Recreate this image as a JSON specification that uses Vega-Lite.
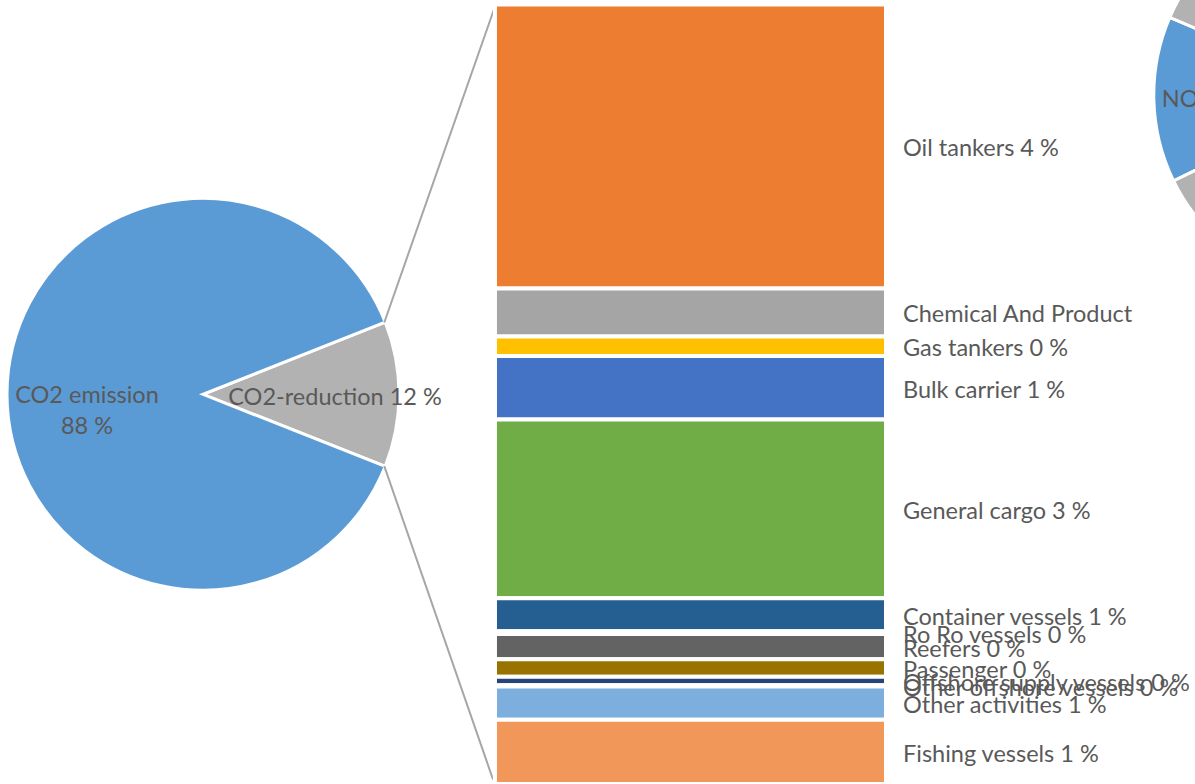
{
  "$schema": "https://vega.github.io/schema/vega-lite/v6.json",
  "width": 1195,
  "height": 784,
  "autosize": {"type": "none"},
  "padding": 0,
  "background": "white",
  "config": {
    "view": {"stroke": null},
    "text": {"font": "Lato", "fontSize": 23.5, "fill": "#595959"}
  },
  "datasets": {
    "co2": [
      {"part": "CO2-reduction", "rank": 1, "value": 12.0},
      {"part": "CO2 emission", "rank": 2, "value": 88.0}
    ],
    "nox": [
      {"part": "NOx emission", "rank": 1, "value": 13.7},
      {"part": "NOx-reduction", "rank": 2, "value": 86.3}
    ],
    "ships": [
      {"segment": "Oil tankers", "rank": 1, "share": 4.37},
      {"segment": "Chemical And Product tankers", "rank": 2, "share": 0.74},
      {"segment": "Gas tankers", "rank": 3, "share": 0.30},
      {"segment": "Bulk carrier", "rank": 4, "share": 0.98},
      {"segment": "General cargo", "rank": 5, "share": 2.75},
      {"segment": "Container vessels", "rank": 6, "share": 0.51},
      {"segment": "Ro Ro vessels", "rank": 7, "share": 0.04},
      {"segment": "Reefers", "rank": 8, "share": 0.39},
      {"segment": "Passenger", "rank": 9, "share": 0.27},
      {"segment": "Offshore supply vessels", "rank": 10, "share": 0.13},
      {"segment": "Other offshore vessels", "rank": 11, "share": 0.02},
      {"segment": "Other activities", "rank": 12, "share": 0.51},
      {"segment": "Fishing vessels", "rank": 13, "share": 0.99}
    ]
  },
  "resolve": {"scale": {"theta": "independent", "color": "independent"}},
  "layer": [
    {
      "data": {"name": "co2"},
      "encoding": {
        "x": {"datum": 3.125, "type": "quantitative", "scale": {"domain": [0, 18.397], "nice": false, "zero": false}, "axis": null},
        "y": {"datum": 6.0, "type": "quantitative", "scale": {"domain": [0, 12.07], "nice": false, "zero": false}, "axis": null},
        "theta": {"field": "value", "type": "quantitative", "stack": true, "scale": {"range": [1.1938, 7.4770]}},
        "order": {"field": "rank", "type": "quantitative"}
      },
      "layer": [
        {
          "mark": {"type": "arc", "radius": 196, "stroke": "white", "strokeWidth": 3},
          "encoding": {
            "color": {"field": "part", "type": "nominal", "scale": {"domain": ["CO2-reduction", "CO2 emission"], "range": ["#B2B2B2", "#5B9BD5"]}, "legend": null}
          }
        },
        {
          "mark": {
            "type": "text",
            "align": "center",
            "baseline": "middle",
            "lineHeight": 31,
            "radius": {"expr": "datum.rank == 2 ? 116 : 132"},
            "dy": {"expr": "datum.rank == 2 ? 2 : 4"},
            "text": {"expr": "datum.rank == 2 ? [datum.part, format(datum.value, '.0f') + ' %'] : datum.part + ' ' + format(datum.value, '.0f') + ' %'"}
          }
        }
      ]
    },
    {
      "data": {"name": "co2"},
      "transform": [{"filter": "datum.rank == 1"}],
      "mark": {"type": "rule", "color": "#A6A6A6", "strokeWidth": 2},
      "encoding": {
        "x": {"datum": 5.916, "type": "quantitative", "scale": {"domain": [0, 18.397], "nice": false, "zero": false}, "axis": null},
        "y": {"datum": 7.105, "type": "quantitative", "scale": {"domain": [0, 12.07], "nice": false, "zero": false}, "axis": null},
        "x2": {"datum": 7.62},
        "y2": {"datum": 11.97}
      }
    },
    {
      "data": {"name": "co2"},
      "transform": [{"filter": "datum.rank == 1"}],
      "mark": {"type": "rule", "color": "#A6A6A6", "strokeWidth": 2},
      "encoding": {
        "x": {"datum": 5.916, "type": "quantitative", "scale": {"domain": [0, 18.397], "nice": false, "zero": false}, "axis": null},
        "y": {"datum": 4.895, "type": "quantitative", "scale": {"domain": [0, 12.07], "nice": false, "zero": false}, "axis": null},
        "x2": {"datum": 7.59},
        "y2": {"datum": 0.07}
      }
    },
    {
      "data": {"name": "ships"},
      "transform": [
        {"stack": "share", "groupby": [], "sort": [{"field": "rank", "order": "descending"}], "as": ["lo", "hi"]}
      ],
      "layer": [
        {
          "mark": {"type": "bar", "stroke": "white", "strokeWidth": 4},
          "encoding": {
            "x": {"datum": 7.62, "type": "quantitative", "scale": {"domain": [0, 18.397], "nice": false, "zero": false}, "axis": null},
            "x2": {"datum": 13.64},
            "y": {"field": "lo", "type": "quantitative", "scale": {"domain": [0, 12.07], "nice": false, "zero": false}, "axis": null},
            "y2": {"field": "hi"},
            "color": {
              "field": "segment",
              "type": "nominal",
              "legend": null,
              "scale": {
                "domain": ["Oil tankers", "Chemical And Product tankers", "Gas tankers", "Bulk carrier", "General cargo", "Container vessels", "Ro Ro vessels", "Reefers", "Passenger", "Offshore supply vessels", "Other offshore vessels", "Other activities", "Fishing vessels"],
                "range": ["#ED7D31", "#A5A5A5", "#FFC000", "#4472C4", "#70AD47", "#255E91", "#9E480E", "#636363", "#997300", "#264478", "#43682B", "#7CAFDD", "#F1975A"]
              }
            }
          }
        },
        {
          "transform": [
            {"fold": ["lo", "hi"], "as": ["edge", "pos"]},
            {"aggregate": [{"op": "mean", "field": "pos", "as": "mid"}], "groupby": ["segment", "share", "rank"]}
          ],
          "mark": {
            "type": "text",
            "align": "left",
            "baseline": "middle",
            "dx": 17,
            "dy": 3,
            "ellipsis": "\u200b",
            "limit": {"expr": "datum.rank == 2 ? 236 : 1000"},
            "text": {"expr": "datum.segment + ' ' + format(datum.share, '.0f') + ' %'"}
          },
          "encoding": {
            "x": {"datum": 13.64, "type": "quantitative", "scale": {"domain": [0, 18.397], "nice": false, "zero": false}, "axis": null},
            "y": {"field": "mid", "type": "quantitative", "scale": {"domain": [0, 12.07], "nice": false, "zero": false}, "axis": null}
          }
        }
      ]
    },
    {
      "data": {"name": "nox"},
      "encoding": {
        "x": {"datum": 20.78, "type": "quantitative", "scale": {"domain": [0, 18.397], "nice": false, "zero": false}, "axis": null},
        "y": {"datum": 10.608, "type": "quantitative", "scale": {"domain": [0, 12.07], "nice": false, "zero": false}, "axis": null},
        "theta": {"field": "value", "type": "quantitative", "stack": true, "scale": {"range": [4.2586, 10.5418]}},
        "order": {"field": "rank", "type": "quantitative"}
      },
      "layer": [
        {
          "mark": {"type": "arc", "radius": 196, "stroke": "white", "strokeWidth": 3},
          "encoding": {
            "color": {"field": "part", "type": "nominal", "scale": {"domain": ["NOx emission", "NOx-reduction"], "range": ["#5B9BD5", "#B2B2B2"]}, "legend": null}
          }
        },
        {
          "mark": {
            "type": "text",
            "align": "center",
            "baseline": "middle",
            "lineHeight": 31,
            "radius": 116,
            "dy": 2,
            "text": {"expr": "datum.rank == 1 ? [datum.part, format(datum.value, '.0f') + ' %'] : ''"}
          }
        }
      ]
    }
  ]
}
